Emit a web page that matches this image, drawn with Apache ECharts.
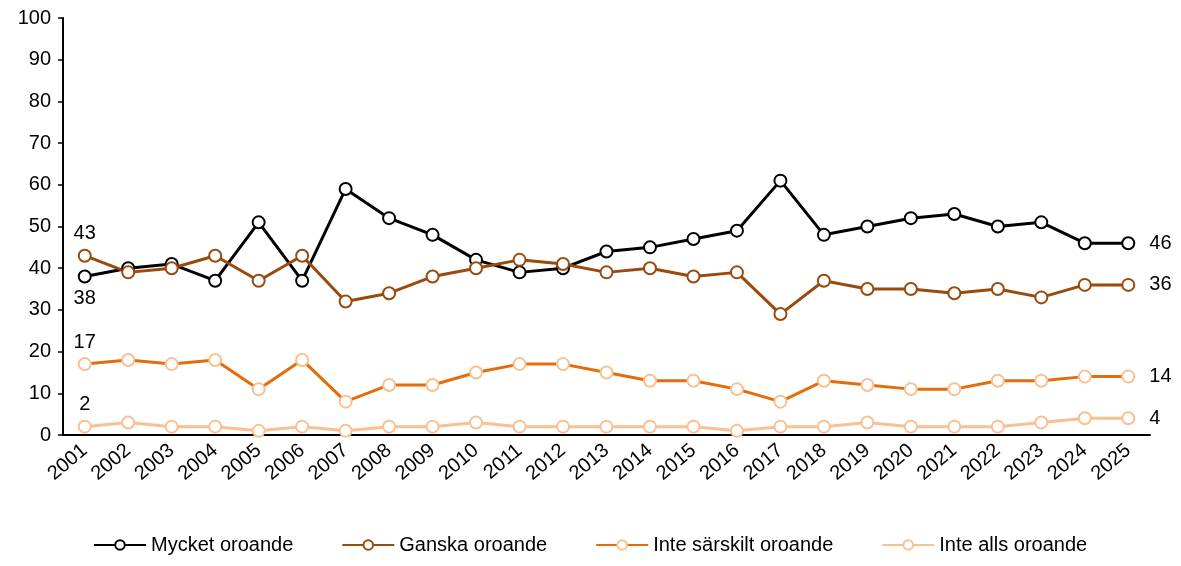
<!DOCTYPE html>
<html>
<head>
<meta charset="utf-8">
<script src="https://cdn.jsdelivr.net/npm/echarts@6/dist/echarts.min.js"></script>
<style>
  html, body { margin: 0; padding: 0; background: #fff; }
  #chart { width: 1181px; height: 566px; }
</style>
</head>
<body>
<div id="chart"></div>
<script>
const years = ['2001', '2002', '2003', '2004', '2005', '2006', '2007', '2008', '2009', '2010', '2011', '2012', '2013',
  '2014', '2015', '2016', '2017', '2018', '2019', '2020', '2021', '2022', '2023', '2024', '2025']
const mycket = [38, 40, 41, 37, 51, 37, 59, 52, 48, 42, 39, 40, 44, 45, 47, 49, 61, 48, 50, 52, 53, 50, 51, 46, 46]
const ganska = [43, 39, 40, 43, 37, 43, 32, 34, 38, 40, 42, 41, 39, 40, 38, 39, 29, 37, 35, 35, 34, 35, 33, 36, 36]
const inteSarskilt = [17, 18, 17, 18, 11, 18, 8, 12, 12, 15, 17, 17, 15, 13, 13, 11, 8, 13, 12, 11, 11, 13, 13, 14, 14]
const inteAlls = [2, 3, 2, 2, 1, 2, 1, 2, 2, 3, 2, 2, 2, 2, 2, 1, 2, 2, 3, 2, 2, 2, 3, 4, 4]
const seriesNames = ['Mycket oroande', 'Ganska oroande', 'Inte särskilt oroande', 'Inte alls oroande']

const font = 'Liberation Sans, Arial, sans-serif'

function makeSeries(name, data, color, border, firstPos) {
  const last = data.length - 1
  return {
    name: name,
    type: 'line',
    data: data.map((v, i) => {
      if (i === 0) {
        return { value: v, label: { show: true, position: firstPos, distance: 5 } }
      }
      if (i === last) {
        return { value: v, label: { show: true, position: 'right', distance: 14 } }
      }
      return v
    }),
    symbol: 'circle',
    symbolSize: 12,
    lineStyle: { color: color, width: 3 },
    itemStyle: { color: '#fff', borderColor: border, borderWidth: 2 },
    label: { color: '#000', fontSize: 20, fontFamily: font },
    emphasis: { disabled: true },
    animation: false
  }
}

const chart = echarts.init(document.getElementById('chart'))
chart.setOption({
  backgroundColor: '#fff',
  grid: { left: 63, right: 31, top: 18, bottom: 131 },
  legend: {
    bottom: 6,
    left: 88,
    itemWidth: 52,
    itemHeight: 12,
    itemGap: 48,
    textStyle: { color: '#000', fontSize: 20, fontFamily: font },
    data: seriesNames
  },
  xAxis: {
    type: 'category',
    data: years,
    boundaryGap: true,
    axisLine: { lineStyle: { color: '#000', width: 2 } },
    axisTick: { alignWithLabel: true, length: 5, lineStyle: { color: '#000', width: 1.5 } },
    axisLabel: { color: '#000', fontSize: 20, fontFamily: font, rotate: 40, margin: 13, interval: 0 }
  },
  yAxis: {
    type: 'value',
    min: 0,
    max: 100,
    interval: 10,
    splitLine: { show: false },
    axisLine: { show: true, lineStyle: { color: '#000', width: 2 } },
    axisTick: { show: true, inside: false, length: 5, lineStyle: { color: '#000', width: 1.5 } },
    axisLabel: { color: '#000', fontSize: 20, fontFamily: font, margin: 12 }
  },
  series: [
    makeSeries(seriesNames[0], mycket, '#000000', '#000000', 'bottom'),
    makeSeries(seriesNames[1], ganska, '#9A4A0C', '#9A4A0C', 'top'),
    makeSeries(seriesNames[2], inteSarskilt, '#E46C0A', '#FAC090', 'top'),
    makeSeries(seriesNames[3], inteAlls, '#FAC090', '#FAC090', 'top')
  ]
})
</script>
</body>
</html>
